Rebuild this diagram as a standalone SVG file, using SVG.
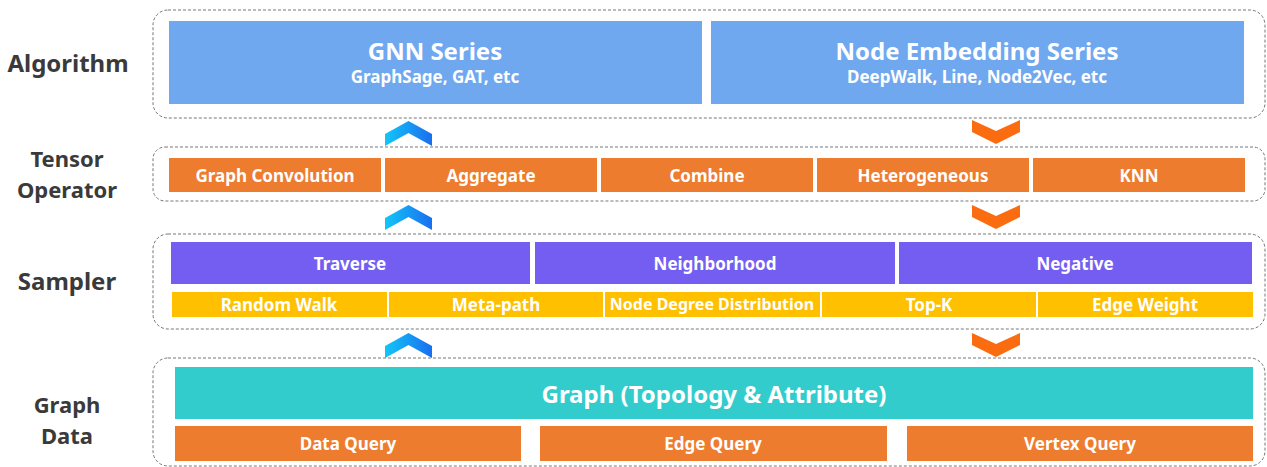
<svg xmlns="http://www.w3.org/2000/svg" width="1267" height="467" viewBox="0 0 1267 467">
<style>
text{font-family:"Noto Sans","Open Sans","Liberation Sans",sans-serif;font-weight:700;text-anchor:middle;dominant-baseline:central}
.lbl{fill:#3a3a3a;font-size:24px}
.lbl2{fill:#3a3a3a;font-size:22px}
.wt{fill:#fff}
.cont{fill:none;stroke:#777;stroke-width:1;stroke-dasharray:3 2}
.blue{fill:#70a8ef}
.org{fill:#ee7c2e}
.pur{fill:#745ef2}
.yel{fill:#ffc000}
.teal{fill:#33cccc}
.up{fill:url(#gup)}
.dn{fill:#fb6b0f}
.t17{font-size:17px}
.t24{font-size:24px}
</style>
<defs>
<linearGradient id="gup" x1="0" y1="0" x2="1" y2="0">
<stop offset="0" stop-color="#12c6f7"/>
<stop offset="1" stop-color="#1a6ef0"/>
</linearGradient>
<path id="chevUp" d="M0,25 L0,13 L23.5,0 L47,13 L47,25 L23.5,12 Z"/>
<path id="chevDn" d="M0,0 L24,11 L48,0 L48,12 L24,24 L0,12 Z"/>
</defs>
<rect width="1267" height="467" fill="#fff"/>

<g id="labels">
<text class="lbl" x="68" y="62">Algorithm</text>
<text class="lbl2" x="67" y="158">Tensor</text>
<text class="lbl2" x="67" y="189">Operator</text>
<text class="lbl" x="67" y="280">Sampler</text>
<text class="lbl2" x="67" y="404">Graph</text>
<text class="lbl2" x="67" y="435">Data</text>
</g>

<g id="algorithm">
<rect class="cont" x="153" y="10" width="1112" height="108" rx="15"/>
<g id="gnn">
<rect class="blue" x="169" y="21" width="533" height="83"/>
<text class="wt t24" x="435" y="50">GNN Series</text>
<text class="wt t17" x="435" y="76">GraphSage, GAT, etc</text>
</g>
<g id="nodeemb">
<rect class="blue" x="711" y="21" width="533" height="83"/>
<text class="wt t24" x="977" y="50">Node Embedding Series</text>
<text class="wt t17" x="977" y="76">DeepWalk, Line, Node2Vec, etc</text>
</g>
</g>

<g id="tensor">
<rect class="cont" x="153" y="147" width="1112" height="54" rx="12"/>
<g id="t1"><rect class="org" x="169" y="158" width="212" height="34"/><text class="wt t17" x="275" y="175">Graph Convolution</text></g>
<g id="t2"><rect class="org" x="385" y="158" width="212" height="34"/><text class="wt t17" x="491" y="175">Aggregate</text></g>
<g id="t3"><rect class="org" x="601" y="158" width="212" height="34"/><text class="wt t17" x="707" y="175">Combine</text></g>
<g id="t4"><rect class="org" x="817" y="158" width="212" height="34"/><text class="wt t17" x="923" y="175">Heterogeneous</text></g>
<g id="t5"><rect class="org" x="1033" y="158" width="212" height="34"/><text class="wt t17" x="1139" y="175">KNN</text></g>
</g>

<g id="sampler">
<rect class="cont" x="153" y="234" width="1112" height="95" rx="15"/>
<g id="s1"><rect class="pur" x="171" y="242" width="359" height="42"/><text class="wt t17" x="350" y="263">Traverse</text></g>
<g id="s2"><rect class="pur" x="535" y="242" width="360" height="42"/><text class="wt t17" x="715" y="263">Neighborhood</text></g>
<g id="s3"><rect class="pur" x="899" y="242" width="353" height="42"/><text class="wt t17" x="1075" y="263">Negative</text></g>
<g id="y1"><rect class="yel" x="172" y="292" width="215" height="25"/><text class="wt t17" x="279" y="304">Random Walk</text></g>
<g id="y2"><rect class="yel" x="389" y="292" width="214" height="25"/><text class="wt t17" x="496" y="304">Meta-path</text></g>
<g id="y3"><rect class="yel" x="605" y="292" width="215" height="25"/><text class="wt" x="712" y="304" font-size="16">Node Degree Distribution</text></g>
<g id="y4"><rect class="yel" x="822" y="292" width="214" height="25"/><text class="wt t17" x="929" y="304">Top-K</text></g>
<g id="y5"><rect class="yel" x="1038" y="292" width="215" height="25"/><text class="wt t17" x="1145" y="304">Edge Weight</text></g>
</g>

<g id="graphdata">
<rect class="cont" x="153" y="358" width="1112" height="108" rx="15"/>
<g id="graph"><rect class="teal" x="175" y="367" width="1078" height="52"/><text class="wt t24" x="714" y="393">Graph (Topology &amp; Attribute)</text></g>
<g id="q1"><rect class="org" x="175" y="426" width="346" height="35"/><text class="wt t17" x="348" y="443">Data Query</text></g>
<g id="q2"><rect class="org" x="540" y="426" width="347" height="35"/><text class="wt t17" x="713" y="443">Edge Query</text></g>
<g id="q3"><rect class="org" x="907" y="426" width="346" height="35"/><text class="wt t17" x="1080" y="443">Vertex Query</text></g>
</g>

<g id="connectors">
<use href="#chevUp" class="up" x="385" y="121"/>
<use href="#chevUp" class="up" x="385" y="205"/>
<use href="#chevUp" class="up" x="385" y="333"/>
<use href="#chevDn" class="dn" x="972" y="120"/>
<use href="#chevDn" class="dn" x="972" y="205"/>
<use href="#chevDn" class="dn" x="972" y="333"/>
</g>
</svg>
